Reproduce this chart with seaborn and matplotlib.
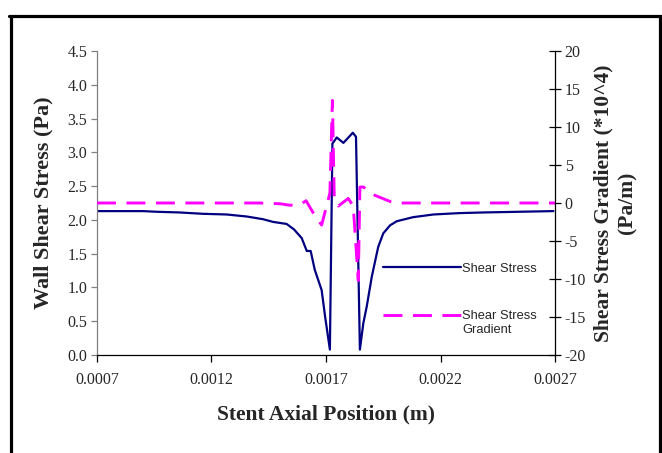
import matplotlib
matplotlib.use("Agg")
import matplotlib.pyplot as plt
import seaborn as sns
import pandas as pd
from matplotlib.lines import Line2D
from matplotlib.ticker import FormatStrFormatter

# Wall shear stress along the stent (Pa)
pos_ss = [0.000700, 0.000800, 0.000900, 0.000962, 0.001060, 0.001163, 0.001266, 0.001354,
          0.001425, 0.001469, 0.001528, 0.001560, 0.001594, 0.001616, 0.001633, 0.001651,
          0.001681, 0.001696, 0.001717, 0.001728, 0.001747, 0.001776, 0.001817, 0.001831,
          0.001848, 0.001863, 0.001878, 0.001900, 0.001928, 0.001950, 0.001980, 0.002009,
          0.002080, 0.002169, 0.002280, 0.002387, 0.002540, 0.002693]
shear = [2.13, 2.13, 2.13, 2.12, 2.11, 2.09, 2.08, 2.05, 2.01, 1.97,
         1.94, 1.86, 1.73, 1.54, 1.54, 1.26, 0.96, 0.57, 0.08, 3.13,
         3.22, 3.14, 3.29, 3.23, 0.08, 0.47, 0.72, 1.16, 1.60, 1.80,
         1.92, 1.98, 2.04, 2.08, 2.10, 2.11, 2.12, 2.13]

# Shear stress gradient (*10^4 Pa/m)
pos_gr = [0.000700, 0.000900, 0.001100, 0.001300, 0.001412, 0.001500, 0.001543, 0.001587,
          0.001613, 0.001648, 0.001681, 0.001717, 0.001728, 0.001736, 0.001754, 0.001797,
          0.001819, 0.001841, 0.001848, 0.001863, 0.001914, 0.001980, 0.002023, 0.002200,
          0.002400, 0.002700]
gradient = [0.0, 0.0, 0.0, 0.0, 0.0, -0.1, -0.3, -0.2, 0.3, -1.5,
            -2.9, 1.3, 13.5, 0.8, -0.4, 0.6, -0.4, -10.2, 2.1, 2.1,
            1.0, 0.2, 0.0, 0.0, 0.0, 0.0]

x_ticks = [0.0007, 0.0012, 0.0017, 0.0022, 0.0027]
left_ticks = [0.0, 0.5, 1.0, 1.5, 2.0, 2.5, 3.0, 3.5, 4.0, 4.5]
right_ticks = [-20, -15, -10, -5, 0, 5, 10, 15, 20]

df_ss = pd.DataFrame({"pos": pos_ss, "val": shear})
df_gr = pd.DataFrame({"pos": pos_gr, "val": gradient})

sns.set_style("white")
plt.rcParams["font.family"] = ["Liberation Serif", "DejaVu Serif"]
plt.rcParams["axes.unicode_minus"] = False

fig = plt.figure(figsize=(6.62, 4.53), dpi=100)
ax = fig.add_axes([97 / 662, 1 - 355 / 453, 458 / 662, 304 / 453])
ax2 = ax.twinx()

navy = "#000080"
pink = "#FF00FF"
dash = (0, (6.5, 3.6))

sns.lineplot(data=df_ss, x="pos", y="val", ax=ax, color=navy, lw=1.6, sort=False)
sns.lineplot(data=df_gr, x="pos", y="val", ax=ax2, color=pink, lw=2.1, sort=False,
             linestyle=dash)

ax.set_xlim(0.0007, 0.0027)
ax.set_ylim(0, 4.5)
ax2.set_ylim(-20, 20)
ax.set_xticks(x_ticks)
ax.set_yticks(left_ticks)
ax2.set_yticks(right_ticks)
ax.xaxis.set_major_formatter(FormatStrFormatter("%.4f"))
ax.yaxis.set_major_formatter(FormatStrFormatter("%.1f"))

for a in (ax, ax2):
    a.spines["top"].set_visible(False)
    a.set_facecolor("none")
ax.spines["left"].set_color("#808080")
ax.spines["bottom"].set_color("black")
ax2.spines["right"].set_color("black")
ax2.spines["left"].set_visible(False)
ax2.spines["bottom"].set_visible(False)
ax.spines["right"].set_visible(False)
for s in ("left", "bottom"):
    ax.spines[s].set_linewidth(0.9)
ax2.spines["right"].set_linewidth(0.9)

ax.tick_params(axis="y", left=True, direction="out", length=4, width=0.9,
               color="#808080", labelsize=11.5, pad=3)
ax.tick_params(axis="x", bottom=True, direction="out", length=5, width=0.9,
               color="black", labelsize=11.5, pad=7)
ax2.tick_params(axis="y", right=True, direction="inout", length=8, width=0.9,
                color="black", labelsize=11.5, pad=3)

ax.set_xlabel("Stent Axial Position (m)", fontsize=15.5, fontweight="bold", labelpad=12)
ax.set_ylabel("Wall Shear Stress (Pa)", fontsize=16, fontweight="bold", labelpad=10)
ax2.set_ylabel("Shear Stress Gradient (*10^4)\n(Pa/m)", fontsize=15.5, fontweight="bold",
               labelpad=5, multialignment="center", linespacing=1.3)

handles = [Line2D([], [], color=navy, lw=1.6),
           Line2D([], [], color=pink, lw=2.1, linestyle=dash)]
if ax.get_legend():
    ax.get_legend().remove()
leg_font = {"family": "Liberation Sans", "size": 9.3}
leg = ax2.legend(handles, ["Shear Stress", "Shear Stress"],
                 loc="upper left", bbox_to_anchor=(0.611, 0.325), frameon=False,
                 handlelength=6.0, handletextpad=0.1, labelspacing=2.75, borderpad=0,
                 prop=leg_font)

# second line of the gradient label sits under its first line
fig.canvas.draw()
bb = leg.get_texts()[1].get_window_extent().transformed(fig.transFigure.inverted())
fig.text(bb.x0, bb.y0 - 0.004, "Gradient", ha="left", va="top", **leg_font)

# outer frame (top, left, right only)
for xs, ys in [((10.5, 10.5), (0, 437.5)), ((659.5, 659.5), (0, 437.5)),
               ((9, 661), (437.5, 437.5))]:
    fig.add_artist(Line2D([x / 662 for x in xs], [y / 453 for y in ys],
                          color="black", lw=2.3, transform=fig.transFigure))

fig.savefig("out.png", dpi=100)
